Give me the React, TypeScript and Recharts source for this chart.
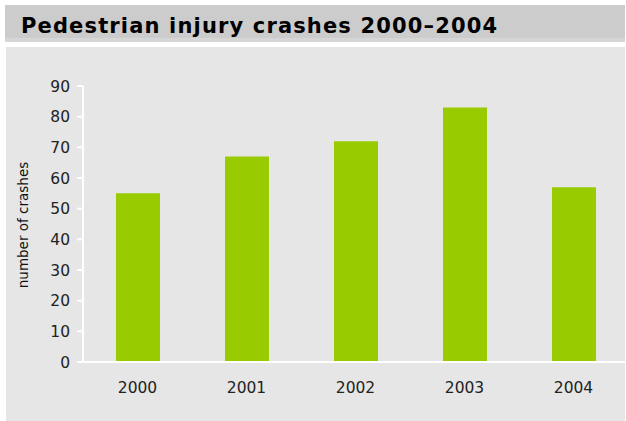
import { Bar, BarChart, XAxis, YAxis } from 'recharts'

const years = ['2000', '2001', '2002', '2003', '2004']
const crashes = [55, 67, 72, 83, 57]
const yTicks = [0, 10, 20, 30, 40, 50, 60, 70, 80, 90]

const data = years.map((year, i) => ({ year, crashes: crashes[i] }))

const FONT = 'Verdana, "DejaVu Sans", sans-serif'

export default function App() {
  return (
    <div
      style={{
        position: 'absolute',
        left: 0,
        top: 0,
        width: 626,
        height: 421,
        overflow: 'hidden',
        background: '#fff',
        fontFamily: FONT,
      }}
    >
      <div
        style={{
          position: 'absolute',
          left: 5,
          top: 5,
          width: 620,
          height: 33,
          background: '#cccccc',
          borderBottom: '4px solid #d6d6d6',
        }}
      >
        <div
          style={{
            position: 'absolute',
            left: 16,
            top: 9,
            fontSize: 21,
            lineHeight: '24px',
            letterSpacing: 1.15,
            fontWeight: 'bold',
            color: '#000',
            whiteSpace: 'nowrap',
          }}
        >
          Pedestrian injury crashes 2000–2004
        </div>
      </div>
      <div style={{ position: 'absolute', left: 6, top: 47, width: 619, height: 374, background: '#e6e6e6' }} />
      <div style={{ position: 'absolute', left: 0, top: 0 }}>
        <BarChart width={628} height={421} data={data} margin={{ top: 86, right: 0, left: 0, bottom: 0 }}>
          <XAxis
            dataKey="year"
            height={59}
            axisLine={{ stroke: '#fff', strokeWidth: 2 }}
            tickLine={false}
            tickSize={0}
            tickMargin={20}
            tick={{ fill: '#222', fontSize: 15.5, fontFamily: FONT }}
          />
          <YAxis
            width={83}
            domain={[0, 90]}
            ticks={yTicks}
            interval={0}
            axisLine={{ stroke: '#fff', strokeWidth: 2 }}
            tickLine={{ stroke: '#fff', strokeWidth: 2 }}
            tickSize={6}
            tickMargin={7}
            tick={{ fill: '#222', fontSize: 15.5, fontFamily: FONT }}
            label={{
              content: () => (
                <text
                  x={23}
                  y={225}
                  transform="rotate(-90 23 225)"
                  textAnchor="middle"
                  dominantBaseline="central"
                  fill="#111"
                  fontSize={13.5}
                  fontFamily={FONT}
                >
                  number of crashes
                </text>
              ),
            }}
          />
          <Bar dataKey="crashes" fill="#99cc00" barSize={44} isAnimationActive={false} />
        </BarChart>
      </div>
    </div>
  )
}
